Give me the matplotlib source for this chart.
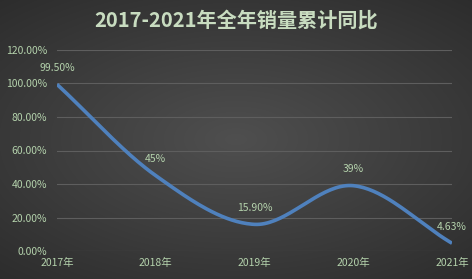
import matplotlib.pyplot as plt
import numpy as np

plt.rcParams['font.family'] = ['Noto Sans CJK SC', 'DejaVu Sans']

years = ['2017年', '2018年', '2019年', '2020年', '2021年']
growth = [99.5, 45, 15.9, 39, 4.63]
labels = ['99.50%', '45%', '15.90%', '39%', '4.63%']
yticks = [0, 20, 40, 60, 80, 100, 120]

text_color = '#b4d2ac'
line_color = '#4f81bd'


def smooth(x, y, n=40):
    # catmull-rom style smoothing like Excel's "smoothed line"
    x = np.asarray(x, float)
    y = np.asarray(y, float)
    px = np.concatenate([[2 * x[0] - x[1]], x, [2 * x[-1] - x[-2]]])
    py = np.concatenate([[2 * y[0] - y[1]], y, [2 * y[-1] - y[-2]]])
    xs, ys = [], []
    t = np.linspace(0, 1, n)
    for i in range(1, len(px) - 2):
        p0, p1, p2, p3 = px[i - 1:i + 3]
        q0, q1, q2, q3 = py[i - 1:i + 3]
        # bezier control points
        c1x, c1y = p1 + (p2 - p0) / 6, q1 + (q2 - q0) / 6
        c2x, c2y = p2 - (p3 - p1) / 6, q2 - (q3 - q1) / 6
        bx = (1 - t) ** 3 * p1 + 3 * (1 - t) ** 2 * t * c1x + 3 * (1 - t) * t ** 2 * c2x + t ** 3 * p2
        by = (1 - t) ** 3 * q1 + 3 * (1 - t) ** 2 * t * c1y + 3 * (1 - t) * t ** 2 * c2y + t ** 3 * q2
        xs.append(bx)
        ys.append(by)
    return np.concatenate(xs), np.concatenate(ys)


fig = plt.figure(figsize=(4.72, 2.79), dpi=100)

# radial dark background
bg = fig.add_axes([0, 0, 1, 1], zorder=0)
gx, gy = np.meshgrid(np.linspace(-1, 1, 472), np.linspace(-1, 1, 279))
r = np.sqrt((gx * 0.9) ** 2 + (gy * 1.0) ** 2)
shade = 0.31 - 0.14 * np.clip(r, 0, 1.4) / 1.4
bg.imshow(np.dstack([shade, shade, shade]), aspect='auto', extent=[0, 1, 0, 1])
bg.axis('off')

ax = fig.add_axes([57 / 472, 28 / 279, 395 / 472, 201 / 279], zorder=1)
ax.patch.set_alpha(0)

x = np.arange(len(years))
sx, sy = smooth(x, growth)
ax.plot(sx, sy, color=line_color, lw=2.6, solid_capstyle='butt', zorder=3)

for xi, yi, lab in zip(x, growth, labels):
    ax.text(xi, yi + 7, lab, ha='center', va='bottom', fontsize=7.5, color=text_color)

ax.set_xlim(0, len(years) - 1)
ax.set_ylim(0, 120)
ax.set_yticks(yticks)
ax.set_yticklabels(['%.2f%%' % v for v in yticks])
ax.set_xticks(x)
ax.set_xticklabels(years)
ax.grid(axis='y', color='#5e5e5e', lw=0.8)
ax.set_axisbelow(True)
ax.tick_params(length=0, colors=text_color, labelsize=7.5)
ax.tick_params(axis='y', pad=7)
ax.tick_params(axis='x', pad=5)
for s in ax.spines.values():
    s.set_visible(False)

fig.text(236 / 472, 1 - 20 / 279, '2017-2021年全年销量累计同比', ha='center', va='center',
         fontsize=14.5, fontweight='bold', color='#c8dcc0')

fig.savefig('out.png', dpi=100)
